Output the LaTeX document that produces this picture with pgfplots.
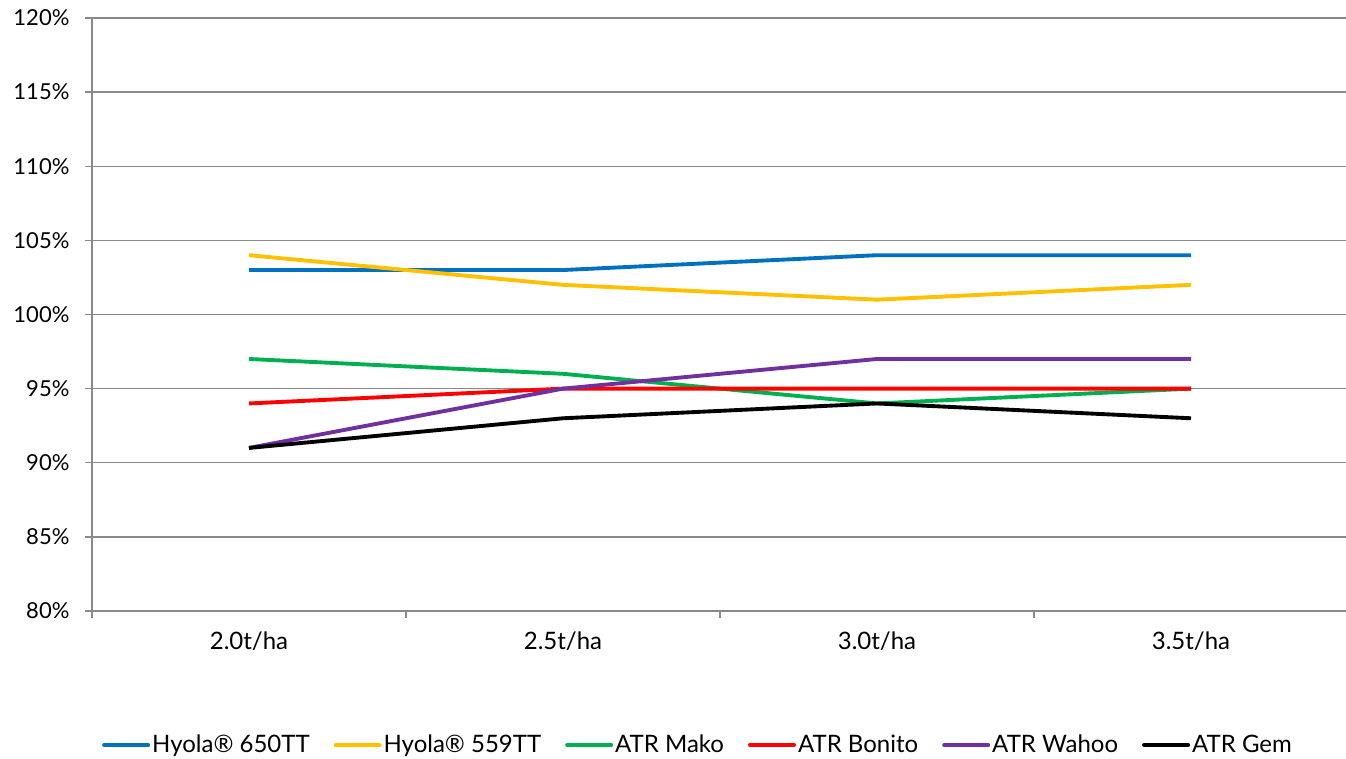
\documentclass[border=0pt]{standalone}
\usepackage{fontspec}
\setmainfont{Lato}
\usepackage{pgfplots}
\pgfplotsset{compat=1.18}
\definecolor{cblue}{HTML}{0070C0}
\definecolor{cyellow}{HTML}{FFC000}
\definecolor{cgreen}{HTML}{00B050}
\definecolor{cred}{HTML}{FF0000}
\definecolor{cpurple}{HTML}{7030A0}
\definecolor{gridgray}{HTML}{898989}
\begin{document}
\fontsize{16.5}{20}\selectfont
\begin{tikzpicture}
\useasboundingbox (0,0) rectangle (1009.5pt,568.5pt);
\begin{axis}[
  at={(69pt,110.25pt)}, anchor=south west,
  scale only axis, width=942pt, height=444.75pt,
  xmin=-0.5, xmax=3.5, ymin=80, ymax=120,
  axis x line*=bottom, axis y line*=left,
  axis line style={gridgray, line width=1pt},
  every axis plot/.append style={line width=2.9pt},
  ytick={80,85,...,120},
  yticklabels={80\%,85\%,90\%,95\%,100\%,105\%,110\%,115\%,120\%},
  ymajorgrids, grid style={gridgray, line width=1pt},
  tick align=outside, major tick length=5.25pt,
  tick style={gridgray, line width=1pt},
  xtick={-0.5,0.5,1.5,2.5,3.5}, xticklabels={},
  extra x ticks={0,1,2,3},
  extra x tick labels={2.0t/ha,2.5t/ha,3.0t/ha,3.5t/ha},
  extra x tick style={major tick length=0pt, grid=none, xticklabel style={yshift=-10pt}},
  yticklabel style={xshift=-6pt, font=\fontsize{16.5}{20}\selectfont},
  xticklabel style={font=\fontsize{18}{22}\selectfont},
  legend columns=6,
  legend style={draw=none, at={(0.4825,-0.226)}, anchor=center,
    font=\fontsize{18}{22}\selectfont,
    /tikz/every even column/.append style={column sep=16.5pt},
    nodes={inner xsep=1.5pt}},
  legend image code/.code={\draw[#1, line width=3pt, line cap=round] (0pt,0pt) -- (33pt,0pt);},
]
\addplot[cblue] coordinates {(0,103) (1,103) (2,104) (3,104)};
\addlegendentry{Hyola® 650TT}
\addplot[cyellow] coordinates {(0,104) (1,102) (2,101) (3,102)};
\addlegendentry{Hyola® 559TT}
\addplot[cgreen] coordinates {(0,97) (1,96) (2,94) (3,95)};
\addlegendentry{ATR Mako}
\addplot[cred] coordinates {(0,94) (1,95) (2,95) (3,95)};
\addlegendentry{ATR Bonito}
\addplot[cpurple] coordinates {(0,91) (1,95) (2,97) (3,97)};
\addlegendentry{ATR Wahoo}
\addplot[black] coordinates {(0,91) (1,93) (2,94) (3,93)};
\addlegendentry{ATR Gem}
\end{axis}
\end{tikzpicture}
\end{document}
